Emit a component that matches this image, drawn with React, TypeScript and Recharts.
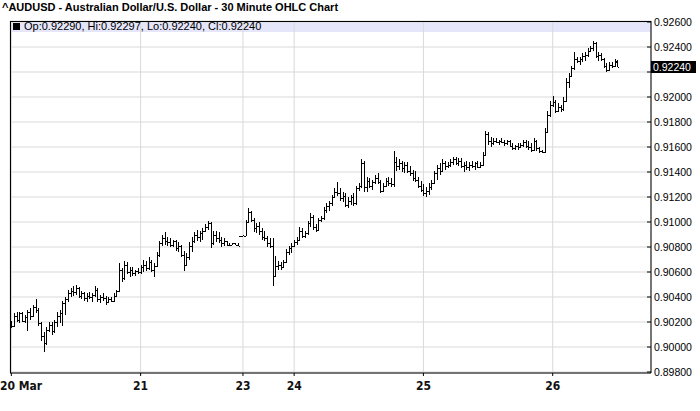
import React from 'react';
import { ComposedChart, Bar, XAxis, YAxis, CartesianGrid, ReferenceLine } from 'recharts';

// 30 minute OHLC bars, AUD/USD, 20 Mar .. 26 Mar
const opens = [
  0.9019, 0.9017, 0.9025, 0.9022, 0.9027, 0.9021, 0.9024, 0.9028, 0.9025, 0.9032,
  0.9030, 0.9019, 0.9009, 0.9003, 0.9014, 0.9018, 0.9013, 0.9020, 0.9025, 0.9027,
  0.9035, 0.9038, 0.9043, 0.9045, 0.9044, 0.9047, 0.9041, 0.9043, 0.9039, 0.9041,
  0.9040, 0.9042, 0.9046, 0.9038, 0.9040, 0.9039, 0.9036, 0.9038, 0.9037, 0.9041,
  0.9045, 0.9062, 0.9055, 0.9066, 0.9060, 0.9062, 0.9059, 0.9061, 0.9060, 0.9064,
  0.9066, 0.9063, 0.9068, 0.9062, 0.9065, 0.9074, 0.9083, 0.9087, 0.9085, 0.9084,
  0.9082, 0.9085, 0.9079, 0.9081, 0.9074, 0.9066, 0.9072, 0.9081, 0.9085, 0.9090,
  0.9088, 0.9091, 0.9093, 0.9096, 0.9099, 0.9083, 0.9090, 0.9087, 0.9086, 0.9083,
  0.9085, 0.9082, 0.9082, 0.9083, 0.9082, 0.9089, 0.9089, 0.9089, 0.9100, 0.9108,
  0.9102, 0.9095, 0.9097, 0.9093, 0.9088, 0.9087, 0.9083, 0.9081, 0.9057, 0.9065,
  0.9066, 0.9064, 0.9068, 0.9076, 0.9079, 0.9081, 0.9084, 0.9086, 0.9093, 0.9089,
  0.9091, 0.9099, 0.9104, 0.9096, 0.9094, 0.9102, 0.9103, 0.9110, 0.9113, 0.9115,
  0.9120, 0.9124, 0.9123, 0.9119, 0.9121, 0.9114, 0.9117, 0.9120, 0.9115, 0.9127,
  0.9129, 0.9147, 0.9128, 0.9133, 0.9129, 0.9132, 0.9135, 0.9132, 0.9125, 0.9129,
  0.9133, 0.9131, 0.9130, 0.9148, 0.9145, 0.9147, 0.9143, 0.9146, 0.9141, 0.9139,
  0.9135, 0.9134, 0.9129, 0.9126, 0.9123, 0.9125, 0.9128, 0.9131, 0.9139, 0.9143,
  0.9141, 0.9147, 0.9145, 0.9146, 0.9148, 0.9150, 0.9147, 0.9149, 0.9145, 0.9146,
  0.9144, 0.9146, 0.9145, 0.9147, 0.9144, 0.9146, 0.9154, 0.9170, 0.9165, 0.9163,
  0.9165, 0.9164, 0.9165, 0.9164, 0.9163, 0.9165, 0.9161, 0.9159, 0.9161, 0.9160,
  0.9162, 0.9164, 0.9161, 0.9160, 0.9158, 0.9165, 0.9159, 0.9157, 0.9156, 0.9172,
  0.9186, 0.9194, 0.9196, 0.9189, 0.9192, 0.9190, 0.9197, 0.9212, 0.9217, 0.9223,
  0.9230, 0.9229, 0.9230, 0.9233, 0.9234, 0.9237, 0.9239, 0.9243, 0.9233, 0.9234,
  0.9230, 0.9225, 0.9222, 0.9226, 0.9225, 0.9229,
];

const highs = [
  0.9021, 0.9027, 0.9028, 0.9028, 0.9028, 0.9026, 0.9030, 0.9031, 0.9034, 0.9038,
  0.9031, 0.9020, 0.9012, 0.9016, 0.9020, 0.9020, 0.9022, 0.9028, 0.9030, 0.9037,
  0.9040, 0.9046, 0.9047, 0.9049, 0.9050, 0.9048, 0.9045, 0.9044, 0.9043, 0.9044,
  0.9043, 0.9049, 0.9047, 0.9042, 0.9043, 0.9041, 0.9040, 0.9040, 0.9043, 0.9046,
  0.9067, 0.9063, 0.9069, 0.9068, 0.9064, 0.9064, 0.9062, 0.9063, 0.9066, 0.9070,
  0.9069, 0.9072, 0.9070, 0.9067, 0.9076, 0.9085, 0.9090, 0.9092, 0.9088, 0.9087,
  0.9086, 0.9086, 0.9084, 0.9082, 0.9077, 0.9075, 0.9084, 0.9088, 0.9092, 0.9094,
  0.9093, 0.9095, 0.9098, 0.9101, 0.9100, 0.9093, 0.9093, 0.9092, 0.9088, 0.9087,
  0.9085, 0.9083, 0.9083, 0.9083, 0.9083, 0.9089, 0.9090, 0.9102, 0.9111, 0.9109,
  0.9103, 0.9099, 0.9100, 0.9095, 0.9093, 0.9089, 0.9087, 0.9087, 0.9073, 0.9069,
  0.9068, 0.9070, 0.9078, 0.9081, 0.9083, 0.9086, 0.9088, 0.9096, 0.9095, 0.9093,
  0.9101, 0.9107, 0.9106, 0.9098, 0.9103, 0.9105, 0.9112, 0.9115, 0.9117, 0.9122,
  0.9127, 0.9132, 0.9127, 0.9124, 0.9123, 0.9120, 0.9122, 0.9123, 0.9129, 0.9131,
  0.9150, 0.9149, 0.9136, 0.9135, 0.9134, 0.9138, 0.9139, 0.9134, 0.9131, 0.9135,
  0.9136, 0.9135, 0.9157, 0.9152, 0.9150, 0.9149, 0.9148, 0.9148, 0.9145, 0.9142,
  0.9141, 0.9136, 0.9133, 0.9130, 0.9128, 0.9131, 0.9134, 0.9141, 0.9146, 0.9147,
  0.9150, 0.9149, 0.9148, 0.9150, 0.9152, 0.9152, 0.9151, 0.9151, 0.9148, 0.9149,
  0.9148, 0.9149, 0.9148, 0.9149, 0.9148, 0.9156, 0.9173, 0.9172, 0.9168, 0.9167,
  0.9167, 0.9166, 0.9167, 0.9166, 0.9166, 0.9166, 0.9163, 0.9162, 0.9163, 0.9163,
  0.9166, 0.9166, 0.9165, 0.9163, 0.9167, 0.9166, 0.9160, 0.9158, 0.9175, 0.9189,
  0.9197, 0.9201, 0.9198, 0.9195, 0.9194, 0.9200, 0.9215, 0.9219, 0.9225, 0.9236,
  0.9232, 0.9232, 0.9235, 0.9236, 0.9239, 0.9241, 0.9245, 0.9244, 0.9236, 0.9235,
  0.9231, 0.9227, 0.9228, 0.9228, 0.9230, 0.92297,
];

const lows = [
  0.9015, 0.9016, 0.9020, 0.9019, 0.9020, 0.9019, 0.9013, 0.9022, 0.9024, 0.9027,
  0.9017, 0.9005, 0.8996, 0.9002, 0.9012, 0.9010, 0.9011, 0.9016, 0.9019, 0.9017,
  0.9026, 0.9036, 0.9040, 0.9041, 0.9042, 0.9039, 0.9038, 0.9037, 0.9036, 0.9038,
  0.9036, 0.9040, 0.9036, 0.9035, 0.9037, 0.9034, 0.9035, 0.9036, 0.9036, 0.9040,
  0.9044, 0.9052, 0.9054, 0.9058, 0.9056, 0.9057, 0.9057, 0.9058, 0.9058, 0.9060,
  0.9061, 0.9062, 0.9060, 0.9056, 0.9064, 0.9072, 0.9081, 0.9082, 0.9081, 0.9080,
  0.9080, 0.9077, 0.9076, 0.9072, 0.9061, 0.9065, 0.9070, 0.9076, 0.9083, 0.9085,
  0.9084, 0.9086, 0.9092, 0.9094, 0.9079, 0.9082, 0.9084, 0.9083, 0.9080, 0.9081,
  0.9081, 0.9081, 0.9082, 0.9082, 0.9081, 0.9088, 0.9089, 0.9089, 0.9099, 0.9100,
  0.9092, 0.9091, 0.9090, 0.9086, 0.9085, 0.9080, 0.9079, 0.9049, 0.9056, 0.9062,
  0.9062, 0.9063, 0.9067, 0.9074, 0.9075, 0.9080, 0.9082, 0.9085, 0.9087, 0.9087,
  0.9090, 0.9096, 0.9094, 0.9092, 0.9093, 0.9100, 0.9102, 0.9107, 0.9109, 0.9113,
  0.9119, 0.9121, 0.9117, 0.9116, 0.9112, 0.9111, 0.9114, 0.9113, 0.9114, 0.9125,
  0.9127, 0.9124, 0.9124, 0.9127, 0.9126, 0.9130, 0.9130, 0.9123, 0.9124, 0.9128,
  0.9129, 0.9128, 0.9128, 0.9141, 0.9142, 0.9140, 0.9139, 0.9139, 0.9137, 0.9133,
  0.9132, 0.9127, 0.9124, 0.9121, 0.9120, 0.9122, 0.9126, 0.9130, 0.9134, 0.9138,
  0.9140, 0.9142, 0.9143, 0.9144, 0.9146, 0.9146, 0.9145, 0.9143, 0.9140, 0.9142,
  0.9141, 0.9143, 0.9142, 0.9143, 0.9143, 0.9145, 0.9153, 0.9162, 0.9160, 0.9162,
  0.9163, 0.9162, 0.9163, 0.9161, 0.9162, 0.9160, 0.9158, 0.9158, 0.9158, 0.9159,
  0.9160, 0.9159, 0.9158, 0.9156, 0.9157, 0.9157, 0.9155, 0.9155, 0.9155, 0.9171,
  0.9184, 0.9192, 0.9187, 0.9188, 0.9188, 0.9189, 0.9196, 0.9207, 0.9216, 0.9222,
  0.9227, 0.9226, 0.9228, 0.9229, 0.9232, 0.9236, 0.9237, 0.9231, 0.9229, 0.9229,
  0.9223, 0.9220, 0.9221, 0.9223, 0.9224, 0.9224,
];

const closes = [
  0.9017, 0.9025, 0.9022, 0.9027, 0.9021, 0.9024, 0.9028, 0.9025, 0.9032, 0.9030,
  0.9019, 0.9009, 0.9003, 0.9014, 0.9018, 0.9013, 0.9020, 0.9025, 0.9027, 0.9035,
  0.9038, 0.9043, 0.9045, 0.9044, 0.9047, 0.9041, 0.9043, 0.9039, 0.9041, 0.9040,
  0.9042, 0.9046, 0.9038, 0.9040, 0.9039, 0.9036, 0.9038, 0.9037, 0.9041, 0.9045,
  0.9062, 0.9055, 0.9066, 0.9060, 0.9062, 0.9059, 0.9061, 0.9060, 0.9064, 0.9066,
  0.9063, 0.9068, 0.9062, 0.9065, 0.9074, 0.9083, 0.9087, 0.9085, 0.9084, 0.9082,
  0.9085, 0.9079, 0.9081, 0.9074, 0.9066, 0.9072, 0.9081, 0.9085, 0.9090, 0.9088,
  0.9091, 0.9093, 0.9096, 0.9099, 0.9083, 0.9090, 0.9087, 0.9086, 0.9083, 0.9085,
  0.9082, 0.9082, 0.9083, 0.9082, 0.9081, 0.9089, 0.9089, 0.9100, 0.9108, 0.9102,
  0.9095, 0.9097, 0.9093, 0.9088, 0.9087, 0.9083, 0.9081, 0.9057, 0.9065, 0.9066,
  0.9064, 0.9068, 0.9076, 0.9079, 0.9081, 0.9084, 0.9086, 0.9093, 0.9089, 0.9091,
  0.9099, 0.9104, 0.9096, 0.9094, 0.9102, 0.9103, 0.9110, 0.9113, 0.9115, 0.9120,
  0.9124, 0.9123, 0.9119, 0.9121, 0.9114, 0.9117, 0.9120, 0.9115, 0.9127, 0.9129,
  0.9147, 0.9128, 0.9133, 0.9129, 0.9132, 0.9135, 0.9132, 0.9125, 0.9129, 0.9133,
  0.9131, 0.9130, 0.9148, 0.9145, 0.9147, 0.9143, 0.9146, 0.9141, 0.9139, 0.9135,
  0.9134, 0.9129, 0.9126, 0.9123, 0.9125, 0.9128, 0.9131, 0.9139, 0.9143, 0.9141,
  0.9147, 0.9145, 0.9146, 0.9148, 0.9150, 0.9147, 0.9149, 0.9145, 0.9146, 0.9144,
  0.9146, 0.9145, 0.9147, 0.9144, 0.9146, 0.9154, 0.9170, 0.9165, 0.9163, 0.9165,
  0.9164, 0.9165, 0.9164, 0.9163, 0.9165, 0.9161, 0.9159, 0.9161, 0.9160, 0.9162,
  0.9164, 0.9161, 0.9160, 0.9158, 0.9165, 0.9159, 0.9157, 0.9156, 0.9172, 0.9186,
  0.9194, 0.9196, 0.9189, 0.9192, 0.9190, 0.9197, 0.9212, 0.9217, 0.9223, 0.9230,
  0.9229, 0.9230, 0.9233, 0.9234, 0.9237, 0.9239, 0.9243, 0.9233, 0.9234, 0.9230,
  0.9225, 0.9222, 0.9226, 0.9225, 0.9228, 0.9224,
];

// bar index where each day starts, and its axis label
const dayStarts = [0, 48, 86, 105, 153, 201];
const dayLabels = ['20 Mar', '21', '23', '24', '25', '26'];

const priceTicks = [
  0.898, 0.9, 0.902, 0.904, 0.906, 0.908, 0.91, 0.912, 0.914, 0.916, 0.918, 0.92, 0.922, 0.924, 0.926,
];

const SLOTS = 238; // empty slots on the right, like the original
const last = opens.length - 1;

const data = Array.from({ length: SLOTS }, (_, i) =>
  i <= last
    ? { i, o: opens[i], h: highs[i], l: lows[i], c: closes[i], range: [lows[i], highs[i]] }
    : { i }
);

const SANS = '"Liberation Sans", Arial, Helvetica, sans-serif';
const NARROW = '"Liberation Sans Narrow", "Arial Narrow", "DejaVu Sans Condensed", sans-serif';

const OhlcBar = (props: any) => {
  const { x, y, width, height, payload } = props;
  if (!payload || payload.h == null) return null;
  const top = Math.min(y, y + height);
  const bot = Math.max(y, y + height);
  const span = payload.h - payload.l;
  const toY = (v: number) => (span > 0 ? top + ((payload.h - v) / span) * (bot - top) : top);
  const cx = Math.round(x + width / 2);
  const t = Math.round(top);
  const h = Math.max(1, Math.round(bot) - t);
  return (
    <g>
      <rect x={cx} y={t} width={1} height={h} fill="#000" />
      <rect x={cx - 1} y={Math.round(toY(payload.o))} width={1} height={1} fill="#000" />
      <rect x={cx + 1} y={Math.round(toY(payload.c))} width={1} height={1} fill="#000" />
    </g>
  );
};

const PriceTick = (props: any) => {
  const { x, y, payload } = props;
  const hidden = Math.abs(payload.value - closes[last]) < 0.0005;
  return (
    <g>
      <line x1={x - 7} x2={x - 3} y1={y} y2={y} stroke="#000" />
      {!hidden && (
        <text x={x} y={y} dy={3.5} textAnchor="start" fontSize={10.5} fontFamily={SANS} fill="#000">
          {payload.value.toFixed(5)}
        </text>
      )}
    </g>
  );
};

const DayTick = (props: any) => {
  const { x, y, payload } = props;
  const k = dayStarts.indexOf(payload.value);
  // the first label would run off the left edge, so it starts at the edge
  const first = k === 0;
  return (
    <text
      x={first ? 0 : x}
      y={y}
      dy={12}
      textAnchor={first ? 'start' : 'middle'}
      fontSize={12}
      fontWeight="bold"
      fontFamily={NARROW}
      fill="#111"
    >
      {k >= 0 ? dayLabels[k] : ''}
    </text>
  );
};

const LastPrice = (props: any) => {
  const { viewBox } = props;
  if (!viewBox) return null;
  const right = viewBox.x + viewBox.width;
  const cy = viewBox.y;
  return (
    <g>
      <rect x={right} y={cy - 6} width={45} height={12} fill="#000" />
      <text x={right + 2} y={cy} dy={3.5} fontSize={10.5} fontFamily={SANS} fill="#fff">
        {closes[last].toFixed(5)}
      </text>
    </g>
  );
};

const App = () => {
  const legend = `Op:${opens[last].toFixed(5)}, Hi:${highs[last].toFixed(5)}, Lo:${lows[last].toFixed(5)}, Cl:${closes[last].toFixed(5)}`;
  return (
    <div style={{ position: 'absolute', left: 0, top: 0, width: 700, height: 411, background: '#fff', overflow: 'hidden' }}>
      <div
        style={{
          position: 'absolute', left: 2, top: 2, fontFamily: SANS, fontWeight: 'bold',
          fontSize: 11, lineHeight: '11px', color: '#000', whiteSpace: 'nowrap',
        }}
      >
        ^AUDUSD - Australian Dollar/U.S. Dollar - 30 Minute OHLC Chart
      </div>
      <div style={{ position: 'absolute', left: 10, top: 21, width: 641, height: 11, background: '#e6e6fa' }} />
      <div style={{ position: 'absolute', left: 0, top: 0 }}>
        <ComposedChart width={700} height={411} data={data} margin={{ top: 21, right: 0, bottom: 0, left: 10 }}>
          <CartesianGrid stroke="#d9d9d9" />
          <XAxis
            dataKey="i"
            type="category"
            ticks={dayStarts}
            interval={0}
            height={38}
            tickSize={3}
            tickMargin={2}
            tickLine={{ stroke: '#000' }}
            axisLine={{ stroke: '#000' }}
            tick={<DayTick />}
          />
          <YAxis
            orientation="right"
            width={49}
            domain={[0.89792, 0.92608]}
            ticks={priceTicks}
            allowDataOverflow
            tickSize={0}
            tickMargin={3}
            tickLine={false}
            axisLine={{ stroke: '#000' }}
            tick={<PriceTick />}
          />
          <Bar dataKey="range" shape={<OhlcBar />} isAnimationActive={false} />
          <ReferenceLine y={closes[last]} stroke="none" ifOverflow="visible" label={<LastPrice />} />
        </ComposedChart>
      </div>
      <div
        style={{
          position: 'absolute', left: 10, top: 21, width: 641, height: 352, boxSizing: 'border-box',
          borderLeft: '1px solid #000', borderTop: '1px solid #000', pointerEvents: 'none',
        }}
      />
      <div
        style={{
          position: 'absolute', left: 13, top: 21, fontFamily: SANS, fontSize: 11, lineHeight: '11px',
          color: '#000', whiteSpace: 'nowrap',
        }}
      >
        <span style={{ display: 'inline-block', width: 7, height: 7, background: '#000', marginRight: 4 }} />
        {legend}
      </div>
    </div>
  );
};

export default App;
